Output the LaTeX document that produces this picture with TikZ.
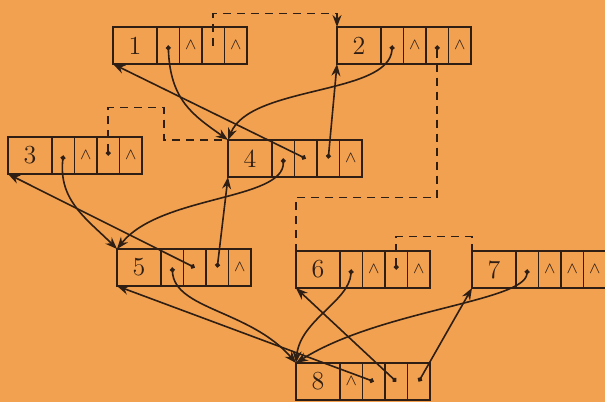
\documentclass[tikz,border=0pt]{standalone}
\usepackage{tikz}
\usetikzlibrary{arrows.meta, positioning}
\definecolor{rec_ink}{HTML}{2E1E14}
\definecolor{rec_paper}{HTML}{F2A150}

\begin{document}
\begin{tikzpicture}[
    x=0.5pt, y=-0.5pt,  % one unit = one pixel of the scan, y runs downwards
    labelbox/.style={draw=rec_ink, line width=0.9pt, anchor=north west,
        minimum width=22pt, minimum height=18.5pt, inner sep=0pt, outer sep=0pt,
        font=\fontsize{13}{15}\selectfont, text=rec_ink},
    cell/.style={draw=rec_ink, line width=0.9pt, minimum width=11.25pt,
        minimum height=18.5pt, inner sep=0pt, outer sep=0pt},
    nilmark/.style={text=rec_ink, font=\fontsize{8}{9}\selectfont, inner sep=0pt},
    ptr/.style={rec_ink, line width=0.8pt,
        {Circle[length=2.4pt]}-{Stealth[length=6pt,width=4.5pt]}},
    link/.style={rec_ink, line width=0.8pt, dash pattern=on 4pt off 3pt,
        {Circle[length=2.4pt]}-},
]

% ── Paper ────────────────────────────────────────────────────────────────────
\useasboundingbox (0,0) rectangle (605,402);
\fill[rec_paper] (0,0) rectangle (605,402);

% ── Records: a label box followed by four fields ─────────────────────────────
\foreach \name/\px/\py/\lab in {r1/113/27/1, r2/337/27/2, r3/8/137/3,
        r4/228/140/4, r5/117/249/5, r6/296/251/6, r7/472/251/7, r8/296/363/8} {
    \node[labelbox] (\name) at (\px,\py) {\lab};
    \node[cell, right=0pt of \name]   (\name-a) {};
    \node[cell, right=0pt of \name-a] (\name-b) {};
    \node[cell, right=0pt of \name-b] (\name-c) {};
    \node[cell, right=0pt of \name-c] (\name-d) {};
}

% ── Empty (nil) fields ───────────────────────────────────────────────────────
\foreach \c in {r1-b, r1-d, r2-b, r2-d, r3-b, r3-d, r4-d, r5-d,
        r6-b, r6-d, r7-b, r7-c, r7-d, r8-a}
    \node[nilmark] (nil-\c) at (\c) {$\wedge$};

% ── Curved pointers to the top-left corners ──────────────────────────────────
\draw[ptr] (r1-a.center) .. controls +(2,55) and +(-35,-25) .. (r4.north west);
\draw[ptr] (r2-a.center) .. controls +(-3,50) and +(22,-55) .. (r4.north west);
\draw[ptr] (r3-a.center) .. controls +(-5,45) and +(-30,-30) .. (r5.north west);
\draw[ptr] (r4-a.center) .. controls +(1,42) and +(43,-54) .. (r5.north west);
\draw[ptr] (r5-a.center) .. controls +(2,42) and +(-46,-53) .. (r8.north west);
\draw[ptr] (r6-a.center) .. controls +(-2,32) and +(4,-43) .. (r8.north west);
\draw[ptr] (r7-a.center) .. controls +(-2,32) and +(84,-53) .. (r8.north west);

% ── Straight pointers to the bottom-left corners ─────────────────────────────
\draw[ptr] (r4-b.center) -- (r1.south west);
\draw[ptr] (r4-c.center) -- (r2.south west);
\draw[ptr] (r5-b.center) -- (r3.south west);
\draw[ptr] (r5-c.center) -- (r4.south west);
\draw[ptr] (r8-b.center) -- (r5.south west);
\draw[ptr] (r8-c.center) -- (r6.south west);
\draw[ptr] (r8-d.center) -- (r7.south west);

% ── Dashed links ─────────────────────────────────────────────────────────────
\draw[link, -{Stealth[length=6pt,width=4.5pt]}]
    (r1-c.center) -- ++(0,-32) -| (r2.north west);
\draw[link] (r3-c.center) -- ++(0,-48) -- ++(56,0) |- (r4.north west);
\draw[link] (r2-c.center) -- ++(0,152) -| (r6.north west);
\draw[link] (r6-c.center) -- ++(0,-33) -| (r7.north west);

\end{tikzpicture}
\end{document}
